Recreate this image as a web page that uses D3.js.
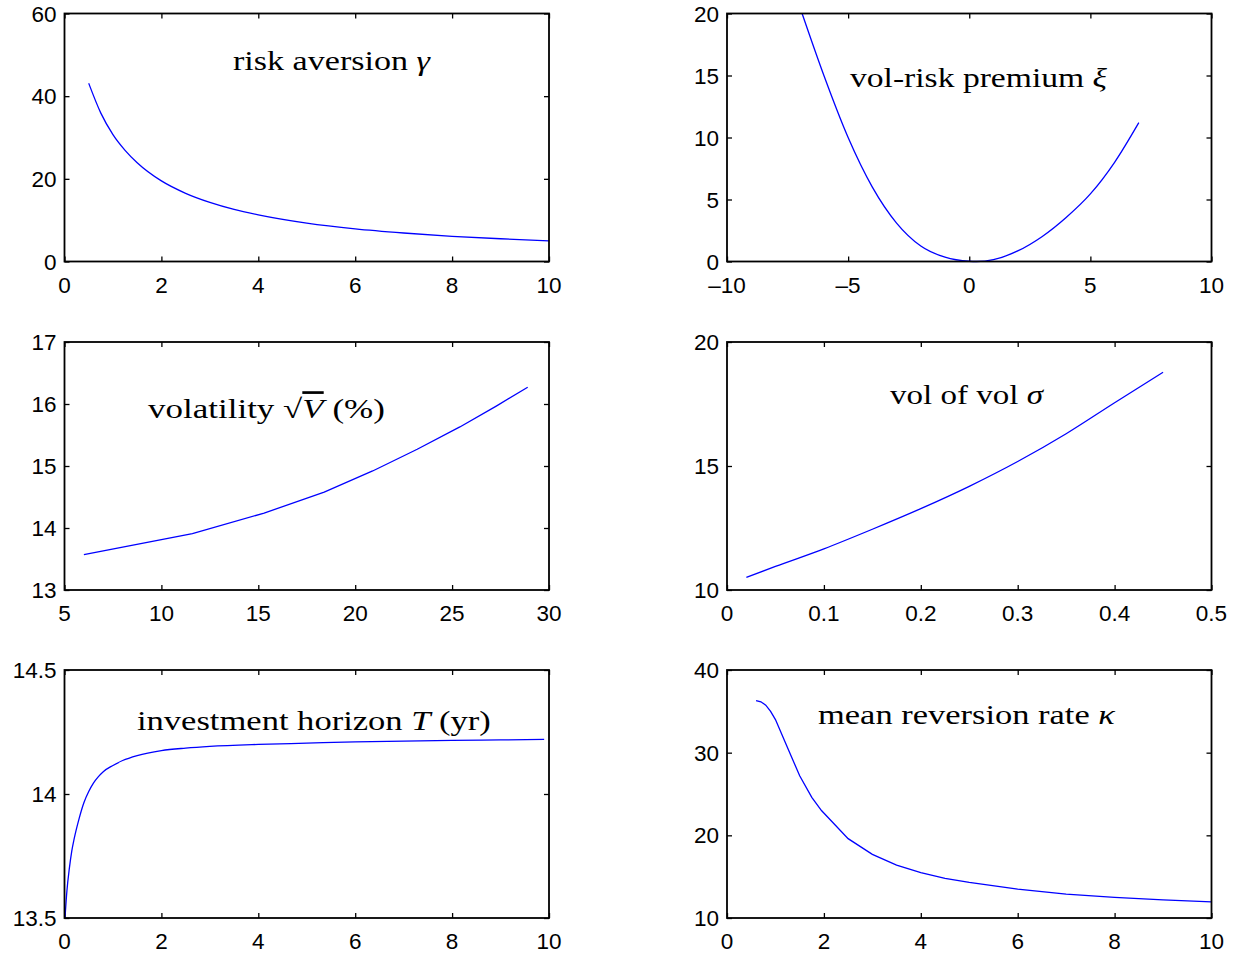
<!DOCTYPE html>
<html>
<head>
<meta charset="utf-8">
<script src="https://cdn.jsdelivr.net/npm/d3@7"></script>
<style>
  body { margin: 0; background: #fff; }
  svg text { font-family: "Liberation Sans", Arial, Helvetica, sans-serif; fill: #000; }
  svg text.title { font-family: "Liberation Serif", "Times New Roman", serif; }
</style>
</head>
<body>
<svg id="chart" width="1240" height="955"></svg>
<script>
// risk aversion gamma
const gammaX = [0.5, 0.75, 1, 1.25, 1.5, 2, 2.5, 3, 3.5, 4, 5, 6, 7, 8, 9, 10];
const gammaY = [43.1, 35.9, 30.7, 26.9, 23.9, 19.5, 16.5, 14.3, 12.6, 11.3, 9.3, 7.9, 6.9, 6.1, 5.5, 5.0];

// vol-risk premium xi
const xiX = [-6.9, -6, -5, -4, -3, -2, -1, 0, 0.3, 1, 2, 3, 4, 5, 6, 7];
const xiY = [20.0, 15.0, 10.0, 6.0, 3.1, 1.25, 0.35, 0.02, 0.0, 0.15, 0.85, 2.0, 3.55, 5.45, 8.0, 11.2];

// volatility sqrt(V) in %
const volX = [6.0, 11.6, 15.3, 18.4, 20.9, 23.2, 25.4, 27.3, 28.9];
const volY = [13.57, 13.91, 14.24, 14.58, 14.92, 15.27, 15.63, 15.97, 16.27];

// vol of vol sigma
const sigmaX = [0.02, 0.05, 0.1, 0.15, 0.2, 0.25, 0.3, 0.35, 0.4, 0.45];
const sigmaY = [10.51, 10.95, 11.66, 12.45, 13.28, 14.18, 15.18, 16.30, 17.55, 18.78];

// investment horizon T
const horizonX = [0.01, 0.05, 0.1, 0.15, 0.2, 0.3, 0.4, 0.5, 0.6, 0.7, 0.8, 1.0, 1.2, 1.5, 2, 2.5, 3, 4, 5, 6, 7, 8, 9, 9.9];
const horizonY = [13.50, 13.61, 13.70, 13.77, 13.82, 13.90, 13.965, 14.01, 14.045, 14.07, 14.09, 14.115, 14.135, 14.155, 14.175, 14.185, 14.192, 14.20, 14.205, 14.21, 14.213, 14.216, 14.218, 14.22];

// mean reversion rate kappa
const kappaX = [0.6, 0.7, 0.8, 0.9, 1.0, 1.25, 1.5, 1.75, 1.95, 2.5, 3.0, 3.5, 4.0, 4.5, 5, 6, 7, 8, 9, 10];
const kappaY = [36.3, 36.15, 35.75, 35.0, 34.0, 30.6, 27.2, 24.6, 23.0, 19.6, 17.7, 16.4, 15.5, 14.8, 14.3, 13.5, 12.9, 12.5, 12.2, 11.95];

// axis ticks
const gammaXTicks = [0, 2, 4, 6, 8, 10], gammaYTicks = [0, 20, 40, 60];
const xiXTicks = [-10, -5, 0, 5, 10], xiYTicks = [0, 5, 10, 15, 20];
const volXTicks = [5, 10, 15, 20, 25, 30], volYTicks = [13, 14, 15, 16, 17];
const sigmaXTicks = [0, 0.1, 0.2, 0.3, 0.4, 0.5], sigmaYTicks = [10, 15, 20];
const horizonXTicks = [0, 2, 4, 6, 8, 10], horizonYTicks = [13.5, 14, 14.5];
const kappaXTicks = [0, 2, 4, 6, 8, 10], kappaYTicks = [10, 20, 30, 40];

const svg = d3.select("#chart");
const plotW = 484.5, plotH = 248;
const colLeft = [64.5, 727];
const rowTop = [13.5, 342, 670];

const panels = [
    { col: 0, row: 0, xs: gammaX, ys: gammaY, xt: gammaXTicks, yt: gammaYTicks, smooth: true,
      title: [["risk aversion ", false], ["γ", true]], tx: 233, ty: 70, tlen: 197 },
    { col: 1, row: 0, xs: xiX, ys: xiY, xt: xiXTicks, yt: xiYTicks, smooth: true,
      title: [["vol-risk premium ", false], ["ξ", true]], tx: 850, ty: 87, tlen: 257 },
    { col: 0, row: 1, xs: volX, ys: volY, xt: volXTicks, yt: volYTicks, smooth: false,
      title: [["volatility ", false], ["√", false], ["V", true, true], [" (%)", false]], tx: 148, ty: 418, tlen: 237 },
    { col: 1, row: 1, xs: sigmaX, ys: sigmaY, xt: sigmaXTicks, yt: sigmaYTicks, smooth: true,
      title: [["vol of vol ", false], ["σ", true]], tx: 890, ty: 404, tlen: 153 },
    { col: 0, row: 2, xs: horizonX, ys: horizonY, xt: horizonXTicks, yt: horizonYTicks, smooth: true,
      title: [["investment horizon ", false], ["T", true], [" (yr)", false]], tx: 137, ty: 730, tlen: 354 },
    { col: 1, row: 2, xs: kappaX, ys: kappaY, xt: kappaXTicks, yt: kappaYTicks, smooth: false,
      title: [["mean reversion rate ", false], ["κ", true]], tx: 818, ty: 724, tlen: 297 },
];

const fmt = d => String(d).replace("-", "\u2013");

panels.forEach(p => {
    const left = colLeft[p.col], top = rowTop[p.row];
    const x = d3.scaleLinear().domain(d3.extent(p.xt)).range([left, left + plotW]);
    const y = d3.scaleLinear().domain(d3.extent(p.yt)).range([top + plotH, top]);

    const g = svg.append("g");

    // inward ticks on all four sides (matlab box)
    const tickLen = 5;
    g.append("g").attr("transform", `translate(0,${top + plotH})`)
        .call(d3.axisTop(x).tickValues(p.xt).tickSize(tickLen).tickFormat(""));
    g.append("g").attr("transform", `translate(0,${top})`)
        .call(d3.axisBottom(x).tickValues(p.xt).tickSize(tickLen).tickFormat(""));
    g.append("g").attr("transform", `translate(${left},0)`)
        .call(d3.axisRight(y).tickValues(p.yt).tickSize(tickLen).tickFormat(""));
    g.append("g").attr("transform", `translate(${left + plotW},0)`)
        .call(d3.axisLeft(y).tickValues(p.yt).tickSize(tickLen).tickFormat(""));
    g.selectAll(".domain").remove();
    g.selectAll(".tick line").attr("stroke", "#000").attr("stroke-width", 1.3);

    // tick labels
    g.selectAll("text.xlab").data(p.xt).enter().append("text")
        .attr("class", "xlab")
        .attr("x", d => x(d))
        .attr("y", top + plotH + 31)
        .attr("text-anchor", "middle")
        .attr("font-size", "22.5px")
        .text(fmt);
    g.selectAll("text.ylab").data(p.yt).enter().append("text")
        .attr("class", "ylab")
        .attr("x", left - 8)
        .attr("y", d => y(d) + 8)
        .attr("text-anchor", "end")
        .attr("font-size", "22.5px")
        .text(fmt);

    // curve
    const line = d3.line().x(d => x(d[0])).y(d => y(d[1]))
        .curve(p.smooth ? d3.curveMonotoneX : d3.curveLinear);
    g.append("path")
        .datum(p.xs.map((v, i) => [v, p.ys[i]]))
        .attr("d", line)
        .attr("fill", "none")
        .attr("stroke", "#0000ff")
        .attr("stroke-width", 1.3);

    // frame
    g.append("rect")
        .attr("x", left).attr("y", top)
        .attr("width", plotW).attr("height", plotH)
        .attr("fill", "none")
        .attr("stroke", "#000")
        .attr("stroke-width", 1.8);

    // title, stretched sideways to the width of the latex original
    const t = g.append("text")
        .attr("class", "title")
        .attr("x", 0).attr("y", 0)
        .attr("font-size", "27px");
    p.title.forEach(seg => {
        const s = t.append("tspan").text(seg[0]);
        if (seg[1]) s.attr("font-style", "italic");
        if (seg[2]) s.style("text-decoration", "overline");
    });
    const w = t.node().getComputedTextLength();
    t.attr("transform", `translate(${p.tx},${p.ty}) scale(${p.tlen / w},1)`);
});
</script>
</body>
</html>
